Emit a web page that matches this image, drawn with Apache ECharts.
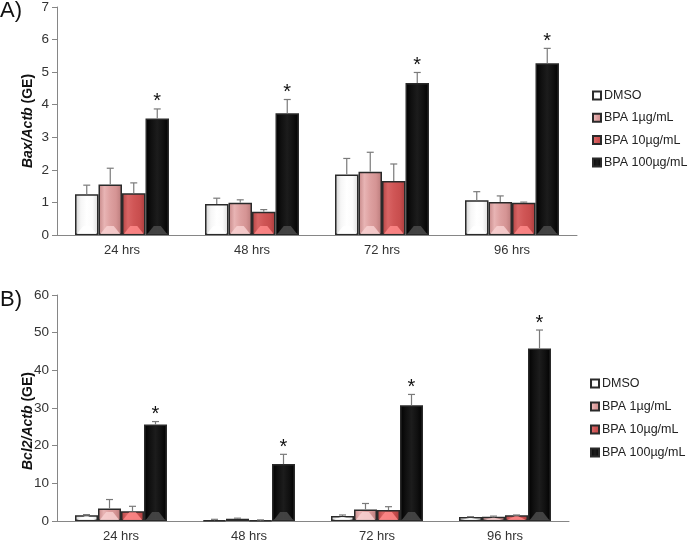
<!DOCTYPE html>
<html><head><meta charset="utf-8">
<script src="https://cdn.jsdelivr.net/npm/echarts@6/dist/echarts.min.js"></script>
<style>html,body{margin:0;padding:0;background:#fff}#c{width:690px;height:543px}</style>
</head><body><div id="c"></div>
<script>
// ---- data ----
const categories = ['24 hrs', '48 hrs', '72 hrs', '96 hrs'];
const seriesNames = ['DMSO', 'BPA 1µg/mL', 'BPA 10µg/mL', 'BPA 100µg/mL'];

// Panel A: Bax/Actb
const baxDMSO = [1.25, 0.95, 1.86, 1.07];
const baxBPA1 = [1.55, 0.99, 1.94, 1.01];
const baxBPA10 = [1.28, 0.71, 1.66, 0.99];
const baxBPA100 = [3.58, 3.74, 4.67, 5.27];
const baxErrDMSO = [0.28, 0.18, 0.49, 0.26];
const baxErrBPA1 = [0.50, 0.09, 0.60, 0.19];
const baxErrBPA10 = [0.32, 0.07, 0.52, 0.02];
const baxErrBPA100 = [0.29, 0.42, 0.32, 0.46];
const starSeries = [false, false, false, true]; // significance marks per series
const baxTicks = [0, 1, 2, 3, 4, 5, 6, 7];

// Panel B: Bcl2/Actb
const bclDMSO = [1.5, 0.15, 1.3, 1.05];
const bclBPA1 = [3.3, 0.6, 3.05, 1.1];
const bclBPA10 = [2.6, 0.1, 2.9, 1.5];
const bclBPA100 = [25.6, 15.1, 30.7, 45.8];
const bclErrDMSO = [0.2, 0.3, 0.3, 0.1];
const bclErrBPA1 = [2.4, 0.15, 1.6, 0.2];
const bclErrBPA10 = [1.3, 0.2, 0.9, 0.1];
const bclErrBPA100 = [0.8, 2.6, 2.9, 4.9];
const bclTicks = [0, 10, 20, 30, 40, 50, 60];

// ---- styles ----
function grad(stops) {
  return new echarts.graphic.LinearGradient(0, 0, 1, 0, stops.map((c, i) => ({offset: i / (stops.length - 1), color: c})));
}
const fills = [
  grad(['#cfcfcf', '#f6f6f6', '#ffffff', '#fbfbfb', '#dcdcdc']),
  grad(['#c48686', '#e8b4b4', '#dda0a0', '#d59494', '#b97a7a']),
  grad(['#b24242', '#d86464', '#d05656', '#c84e4e', '#a83c3c']),
  grad(['#000000', '#101010', '#1c1c1c', '#101010', '#000000'])
];
const triColors = ['#ffffff', '#f7d0d0', '#ff8a8a', '#4a4a4a'];
const borderColor = '#2a2a2a';
const errColor = '#7a7a7a';
const axisColor = '#868686';
const FONT = '"Liberation Sans", Arial, sans-serif';

const panels = [
  {vals: [baxDMSO, baxBPA1, baxBPA10, baxBPA100], errs: [baxErrDMSO, baxErrBPA1, baxErrBPA10, baxErrBPA100], ticks: baxTicks, barW: 23.5},
  {vals: [bclDMSO, bclBPA1, bclBPA10, bclBPA100], errs: [bclErrDMSO, bclErrBPA1, bclErrBPA10, bclErrBPA100], ticks: bclTicks, barW: 23}
];

const series = [];
panels.forEach((p, gi) => {
  p.vals.forEach((v, si) => {
    series.push({
      type: 'bar', name: seriesNames[si], xAxisIndex: gi, yAxisIndex: gi,
      data: v, barWidth: p.barW, barGap: '0%',
      itemStyle: {color: fills[si], borderColor: borderColor, borderWidth: 1.5},
      emphasis: {disabled: true}, z: 2
    });
  });
  // bevel decoration (bottom light trapezoid) for each bar
  const decoData = [];
  p.vals.forEach((v, si) => v.forEach((val, ci) => decoData.push([ci, val, si])));
  series.push({
    type: 'custom', xAxisIndex: gi, yAxisIndex: gi, z: 3, silent: true,
    data: decoData,
    renderItem: (params, api) => {
      const ci = api.value(0), val = api.value(1), si = api.value(2);
      const base = api.coord([ci, 0]);
      const top = api.coord([ci, val]);
      const cx = base[0] + (si - 1.5) * p.barW;
      const hw = p.barW / 2 - 1.8;
      const barH = base[1] - top[1];
      const h = Math.min(8, barH - 2);
      if (h <= 1) return null;
      const yb = base[1] - 1;
      const topHalf = Math.max(1, hw * 0.35 * (h / 8));
      return {
        type: 'polygon',
        shape: {points: [[cx - hw, yb], [cx + hw, yb], [cx + topHalf, yb - h], [cx - topHalf, yb - h]]},
        style: {fill: triColors[si], opacity: 0.85}
      };
    }
  });
  // error bars + stars
  const errData = [];
  p.vals.forEach((v, si) => v.forEach((val, ci) => errData.push([ci, val, p.errs[si][ci], si])));
  series.push({
    type: 'custom', xAxisIndex: gi, yAxisIndex: gi, z: 4, silent: true,
    data: errData,
    renderItem: (params, api) => {
      const ci = api.value(0), val = api.value(1), err = api.value(2), si = api.value(3);
      const base = api.coord([ci, val]);
      const topP = api.coord([ci, val + err]);
      const cx = base[0] + (si - 1.5) * p.barW;
      const children = [
        {type: 'line', shape: {x1: cx, y1: base[1], x2: cx, y2: topP[1]}, style: {stroke: errColor, lineWidth: 1.2}},
        {type: 'line', shape: {x1: cx - 3.5, y1: topP[1], x2: cx + 3.5, y2: topP[1]}, style: {stroke: errColor, lineWidth: 1.2}}
      ];
      if (starSeries[si]) {
        children.push({type: 'text', style: {text: '*', x: cx, y: topP[1] + 3, align: 'center', verticalAlign: 'bottom',
          font: '20px ' + FONT, fill: '#111'}});
      }
      return {type: 'group', children};
    }
  });
});

const grids = [
  {left: 57, right: 113, top: 7, height: 228},
  {left: 57, right: 121, top: 295, height: 228.3}
];
const names = [['Bax/Actb', ' (GE)'], ['Bcl2/Actb', ' (GE)']];
const namePads = [[0, 0, 0, 0], [0, 26, 0, 0]];

const option = {
  animation: false,
  backgroundColor: '#fff',
  textStyle: {fontFamily: FONT},
  grid: grids,
  xAxis: [0, 1].map(i => ({
    type: 'category', gridIndex: i, data: categories,
    axisLine: {lineStyle: {color: axisColor, width: 1}},
    axisTick: {show: false},
    axisLabel: {color: '#333', fontSize: 13, margin: 9, fontFamily: FONT}
  })),
  yAxis: [0, 1].map(i => {
    const t = panels[i].ticks;
    return {
      type: 'value', gridIndex: i, min: t[0], max: t[t.length - 1], interval: t[1] - t[0],
      splitLine: {show: false},
      axisLine: {show: true, lineStyle: {color: axisColor, width: 1}},
      axisTick: {show: true, length: 5, lineStyle: {color: axisColor}},
      axisLabel: {color: '#333', fontSize: 13.5, margin: 8, fontFamily: FONT},
      name: '{i|' + names[i][0] + '}{b|' + names[i][1] + '}',
      nameLocation: 'middle', nameGap: 22, nameRotate: 90, nameMoveOverlap: false,
      nameTextStyle: {
        padding: namePads[i],
        rich: {
          i: {fontStyle: 'italic', fontWeight: 'bold', fontSize: 14, color: '#111', fontFamily: FONT},
          b: {fontWeight: 'bold', fontSize: 14, color: '#111', fontFamily: FONT}
        }
      }
    };
  }),
  legend: [
    {data: seriesNames, orient: 'vertical', left: 592, top: 89, padding: 0, itemWidth: 8, itemHeight: 8, itemGap: 9.3, icon: 'rect',
     textStyle: {fontSize: 12.5, color: '#222', fontFamily: FONT, padding: [0, 0, 0, -2]}, selectedMode: false},
    {data: seriesNames, orient: 'vertical', left: 590, top: 377, padding: 0, itemWidth: 8, itemHeight: 8, itemGap: 10, icon: 'rect',
     textStyle: {fontSize: 12.5, color: '#222', fontFamily: FONT, padding: [0, 0, 0, -2]}, selectedMode: false}
  ],
  graphic: [
    {type: 'text', left: 0, top: 0, style: {text: 'A)', font: '22px ' + FONT, fill: '#111'}},
    {type: 'text', left: 0, top: 289, style: {text: 'B)', font: '22px ' + FONT, fill: '#111'}}
  ],
  series
};
const chart = echarts.init(document.getElementById('c'), null, {renderer: 'canvas'});
chart.setOption(option);
</script></body></html>
